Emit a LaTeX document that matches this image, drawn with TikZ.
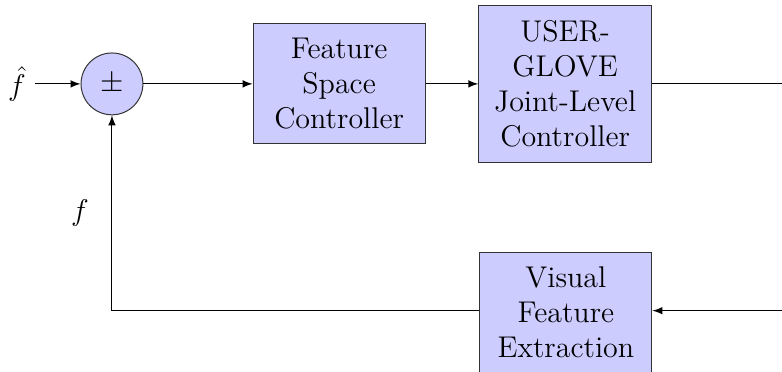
\documentclass[tikz,border=0pt]{standalone}
\usepackage{tikz}
\usepackage{xcolor}

\begin{document}
\begin{tikzpicture}[block/.style={draw=black!80, fill=blue!20, align=center, font=\large, minimum width=2.42cm, minimum height=1.69cm}]
				\useasboundingbox (0,0) rectangle (11,-5.22);
				\node (fhat) at (0.24,-1.18) {\large $ \hat{f} $};
				\node[circle, draw=black!80, fill=blue!20, inner sep=0pt, minimum size=0.87cm, font=\large] (sum) at (1.575,-1.18) {$ \pm $};
				\node[block] (fsc) at (4.77,-1.18) {Feature\\Space\\Controller};
				\node[block, minimum width=2.43cm, minimum height=2.21cm] (glove) at (7.95,-1.18) {USER-\\GLOVE\\Joint-Level\\Controller};
				\node[block] (vfe) at (7.96,-4.39) {Visual\\Feature\\Extraction};
				\coordinate (out) at (11,-1.18);
				\coordinate (in) at (11,-4.37);
				\coordinate (corner) at (1.575,-4.37);
				\node (f) at (1.125,-3.0) {\large $ f $};
				\draw[-latex] (fhat) -- (sum);
				\draw[-latex] (sum) -- (fsc);
				\draw[-latex] (fsc) -- (glove);
				\draw (glove) -- (out);
				\draw[-latex] (in) -- (vfe.east |- in);
				\draw[-latex] (vfe.west |- in) -- (corner) -- (sum);
			\end{tikzpicture}
\end{document}
